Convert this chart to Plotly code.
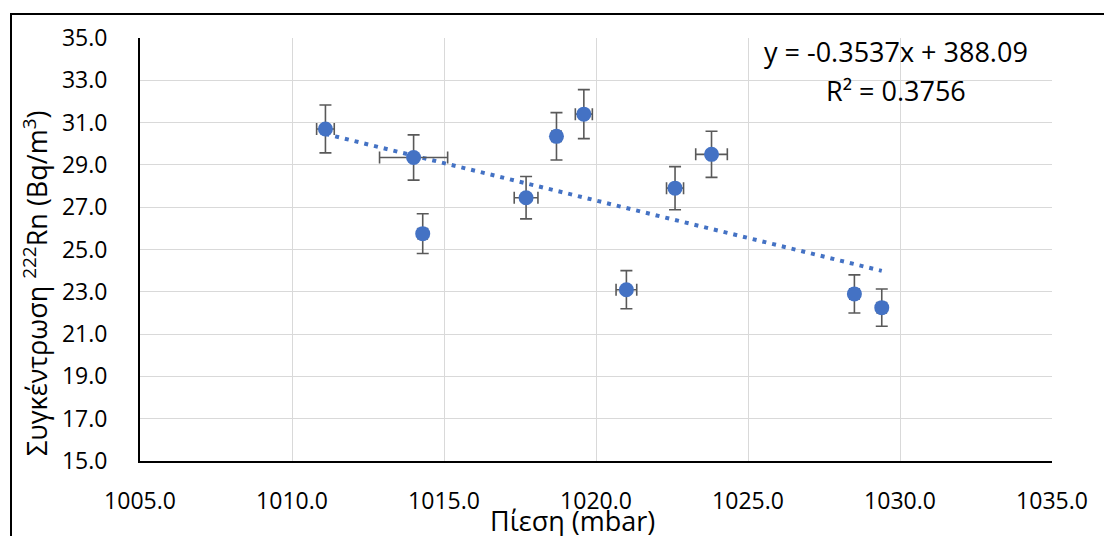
import plotly.graph_objects as go

# Measurements: air pressure (mbar) and 222Rn concentration (Bq/m3)
pressure = [1011.1, 1014.0, 1014.3, 1017.7, 1018.7, 1019.6, 1021.0, 1022.6, 1023.8, 1028.5, 1029.4]
pressure_err = [0.29, 1.12, 0.15, 0.39, 0.15, 0.28, 0.34, 0.28, 0.52, 0.15, 0.15]
radon = [30.7, 29.35, 25.75, 27.45, 30.35, 31.4, 23.1, 27.9, 29.5, 22.9, 22.25]
radon_err = [1.13, 1.07, 0.94, 1.0, 1.12, 1.16, 0.9, 1.02, 1.09, 0.9, 0.88]

# Linear trend line coefficients
slope = -0.3537
intercept = 388.09
r_squared = 0.3756

x_ticks = [1005, 1010, 1015, 1020, 1025, 1030, 1035]
y_ticks = [15, 17, 19, 21, 23, 25, 27, 29, 31, 33, 35]

BLUE = "#4472C4"
FONT = "Open Sans"

trend_x = [min(pressure), max(pressure)]
trend_y = [slope * v + intercept for v in trend_x]

fig = go.Figure()

fig.add_trace(go.Scatter(
    x=trend_x, y=trend_y, mode="lines",
    line=dict(color=BLUE, width=4, dash="4px,6px"),
    hoverinfo="skip", showlegend=False,
))

fig.add_trace(go.Scatter(
    x=pressure, y=radon, mode="markers",
    marker=dict(color=BLUE, size=15, line=dict(width=0)),
    error_y=dict(type="data", array=radon_err, color="#595959", thickness=1.6, width=6),
    error_x=dict(type="data", array=pressure_err, color="#595959", thickness=1.6, width=6),
    showlegend=False,
))

# plot area in pixels: x 140..1052, y 38..461
L, R, T, B = 140, 1052, 38, 461
W, H = 1104, 536


def px(xp):
    return (xp - L) / (R - L)


def py(yp):
    return (B - yp) / (B - T)


fig.update_layout(
    width=W, height=H,
    margin=dict(l=L, r=W - R, t=T, b=H - B),
    paper_bgcolor="white", plot_bgcolor="white",
    font=dict(family=FONT, color="#000000"),
    xaxis=dict(
        range=[1005, 1035], tickvals=x_ticks, tickformat=".1f",
        showgrid=True, gridcolor="#D9D9D9", gridwidth=1.3,
        showline=True, linecolor="#000000", linewidth=2, mirror=False,
        zeroline=False, ticks="", tickfont=dict(size=23, family=FONT),
        ticklabelstandoff=18,
    ),
    yaxis=dict(
        range=[15, 35], tickvals=y_ticks, tickformat=".1f",
        showgrid=True, gridcolor="#D9D9D9", gridwidth=1.3,
        showline=True, linecolor="#000000", linewidth=2, mirror=False,
        zeroline=False, ticks="", tickfont=dict(size=23, family=FONT),
        ticklabelstandoff=26,
    ),
    shapes=[
        dict(type="rect", xref="paper", yref="paper",
             x0=px(11), x1=px(1200), y0=py(700), y1=py(14),
             line=dict(color="#000000", width=2), fillcolor="rgba(0,0,0,0)",
             layer="below"),
    ],
    annotations=[
        dict(text="y = -0.3537x + 388.09", x=px(896), y=py(51),
             xref="paper", yref="paper", showarrow=False,
             xanchor="center", yanchor="middle",
             font=dict(size=27, family=FONT, color="#000000")),
        dict(text="R² = " + f"{r_squared:.4f}", x=px(896), y=py(91),
             xref="paper", yref="paper", showarrow=False,
             xanchor="center", yanchor="middle",
             font=dict(size=27, family=FONT, color="#000000")),
        dict(text="Πίεση (mbar)", x=px(572), y=py(520),
             xref="paper", yref="paper", showarrow=False,
             xanchor="center", yanchor="middle",
             font=dict(size=27, family=FONT, color="#000000")),
        dict(text="Συγκέντρωση <sup>222</sup>Rn (Bq/m<sup>3</sup>)",
             x=px(35), y=py(283), xref="paper", yref="paper",
             showarrow=False, textangle=-90,
             xanchor="center", yanchor="middle",
             font=dict(size=27, family=FONT, color="#000000")),
    ],
)

fig.write_html("out.html")
